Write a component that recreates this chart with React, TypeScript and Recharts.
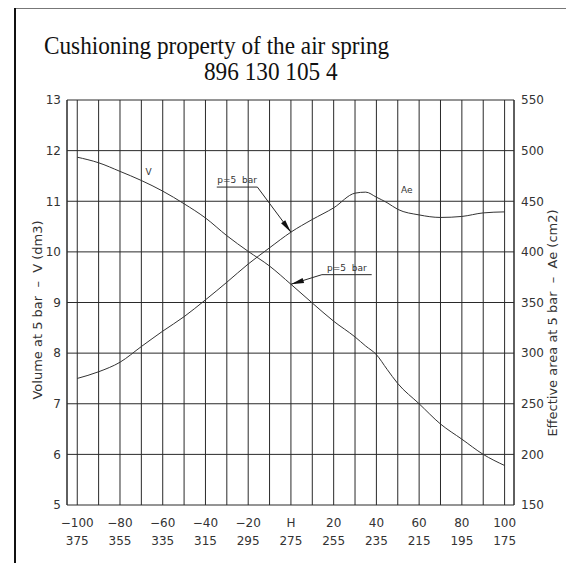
import React from 'react';
import {
  LineChart,
  Line,
  XAxis,
  YAxis,
  CartesianGrid,
  ReferenceLine,
  ReferenceDot,
} from 'recharts';

// stroke position (mm) and the readings at 5 bar
const strokes = [-100, -90, -80, -70, -60, -50, -40, -30, -20, -10, 0, 10, 20, 30, 35, 40, 45, 50, 60, 70, 80, 90, 100];
const volume = [11.87, 11.76, 11.59, 11.41, 11.2, 10.95, 10.67, 10.32, 10.01, 9.72, 9.36, 8.99, 8.63, 8.32, 8.14, 7.97, 7.68, 7.4, 7.0, 6.6, 6.3, 6.0, 5.78];
const area = [275, 281.6, 291, 306.5, 321.7, 336, 352.6, 370, 388, 404, 419.5, 432, 443.5, 458, 459, 454, 448.6, 442, 436.5, 434, 435, 438.5, 439.5];

const xTicks = [-100, -90, -80, -70, -60, -50, -40, -30, -20, -10, 0, 10, 20, 30, 40, 50, 60, 70, 80, 90, 100];
const xTopLabels = ['\u2212100', '\u221280', '\u221260', '\u221240', '\u221220', 'H', '20', '40', '60', '80', '100'];
const xBottomLabels = ['375', '355', '335', '315', '295', '275', '255', '235', '215', '195', '175'];
const leftTicks = [5, 6, 7, 8, 9, 10, 11, 12, 13];
const rightTicks = [150, 200, 250, 300, 350, 400, 450, 500, 550];

const data = strokes.map((x, i) => ({ x, v: volume[i], ae: area[i] }));
const atZero = strokes.indexOf(0);

const FONT = '"DejaVu Sans", sans-serif';
const SERIF = '"Liberation Serif", serif';
const INK = '#2a2a2a';

function XTick({ x, y, payload }: any) {
  const v = payload.value;
  if (v % 20 !== 0) return <g />;
  const i = (v + 100) / 20;
  return (
    <g fontFamily={FONT} fontSize={12} fill="#333">
      <text x={x} y={y + 20} textAnchor="middle">{xTopLabels[i]}</text>
      <text x={x} y={y + 38} textAnchor="middle">{xBottomLabels[i]}</text>
    </g>
  );
}

// leader line ending in a filled arrow head at (x2, y2)
const leader = (props: any) => {
  const { x1, y1, x2, y2 } = props;
  const a = Math.atan2(y2 - y1, x2 - x1);
  const len = 13;
  const hw = 2.6;
  const bx = x2 - len * Math.cos(a);
  const by = y2 - len * Math.sin(a);
  const nx = -Math.sin(a) * hw;
  const ny = Math.cos(a) * hw;
  return (
    <g>
      <line x1={x1} y1={y1} x2={x2} y2={y2} stroke={INK} strokeWidth={1} />
      <polygon points={`${x2},${y2} ${bx + nx},${by + ny} ${bx - nx},${by - ny}`} fill="#111" />
    </g>
  );
};

const underline = (props: any) => {
  const { x1, y1, x2, y2 } = props;
  return (
    <g>
      <line x1={x1} y1={y1} x2={x2} y2={y2} stroke={INK} strokeWidth={1} />
      <text
        x={(x1 + x2) / 2}
        y={y1 - 4}
        textAnchor="middle"
        fontFamily={FONT}
        fontSize={9}
        fill="#333"
        style={{ whiteSpace: 'pre' }}
      >
        {'p=5  bar'}
      </text>
    </g>
  );
};

const smallText = (txt: string) => (props: any) => (
  <text x={props.cx} y={props.cy + 3} textAnchor="middle" fontFamily={FONT} fontSize={9} fill="#333">
    {txt}
  </text>
);

export default function App() {
  return (
    <div style={{ position: 'absolute', left: 0, top: 0, width: 566, height: 563, background: '#fff' }}>
      <LineChart
        width={566}
        height={563}
        data={data}
        margin={{ top: 100, right: 22, left: 17, bottom: 0 }}
      >
        <CartesianGrid yAxisId="left" stroke={INK} strokeWidth={1} strokeOpacity={1} />
        <XAxis
          dataKey="x"
          type="number"
          domain={[-104.8, 104.4]}
          ticks={xTicks}
          interval={0}
          allowDataOverflow
          tick={<XTick />}
          tickLine={false}
          axisLine={false}
          tickSize={0}
          height={58}
        />
        <YAxis
          yAxisId="left"
          domain={[5, 13]}
          ticks={leftTicks}
          interval={0}
          width={50}
          tickLine={false}
          tickSize={4}
          axisLine={{ stroke: INK }}
          tick={{ fontFamily: FONT, fontSize: 12, fill: '#333' }}
        />
        <YAxis
          yAxisId="right"
          orientation="right"
          domain={[150, 550]}
          ticks={rightTicks}
          interval={0}
          width={30}
          tickLine={false}
          tickSize={5}
          axisLine={{ stroke: INK }}
          tick={{ fontFamily: FONT, fontSize: 12, fill: '#333', textAnchor: 'start' }}
        />
        <Line
          yAxisId="left"
          dataKey="v"
          type="monotone"
          stroke="#333"
          strokeWidth={1}
          dot={false}
          isAnimationActive={false}
        />
        <Line
          yAxisId="right"
          dataKey="ae"
          type="monotone"
          stroke="#333"
          strokeWidth={1}
          dot={false}
          isAnimationActive={false}
        />
        <ReferenceDot yAxisId="left" x={-66.6} y={11.58} r={0} shape={smallText('V')} />
        <ReferenceDot yAxisId="right" x={54.2} y={461} r={0} shape={smallText('Ae')} />
        <ReferenceLine
          yAxisId="left"
          segment={[{ x: -34.7, y: 11.28 }, { x: -15.7, y: 11.28 }]}
          shape={underline}
        />
        <ReferenceLine
          yAxisId="right"
          segment={[{ x: -15.7, y: 464 }, { x: 0, y: area[atZero] }]}
          shape={leader}
        />
        <ReferenceLine
          yAxisId="left"
          segment={[{ x: 14.5, y: 9.55 }, { x: 37.8, y: 9.55 }]}
          shape={underline}
        />
        <ReferenceLine
          yAxisId="left"
          segment={[{ x: 14.5, y: 9.55 }, { x: 0, y: volume[atZero] }]}
          shape={leader}
        />
      </LineChart>
      <svg
        width={566}
        height={563}
        style={{ position: 'absolute', left: 0, top: 0, pointerEvents: 'none' }}
      >
        <line x1={15} y1={8.5} x2={566} y2={8.5} stroke="#777" strokeWidth={1} />
        <line x1={15} y1={8} x2={15} y2={563} stroke="#111" strokeWidth={2} />
        <text transform="translate(44,54) scale(0.93,1)" fontFamily={SERIF} fontSize={25} fill="#111">
          Cushioning property of the air spring
        </text>
        <text transform="translate(204,80) scale(0.93,1)" fontFamily={SERIF} fontSize={25} fill="#111">
          896 130 105 4
        </text>
        <text
          transform="translate(42,310) rotate(-90)"
          textAnchor="middle"
          fontFamily={FONT}
          fontSize={13}
          fill="#333"
          style={{ whiteSpace: 'pre' }}
        >
          {'Volume at 5 bar  \u2013  V (dm3)'}
        </text>
        <text
          transform="translate(557,323) rotate(-90)"
          textAnchor="middle"
          fontFamily={FONT}
          fontSize={13}
          fill="#333"
          style={{ whiteSpace: 'pre' }}
        >
          {'Effective area at 5 bar  \u2013  Ae (cm2)'}
        </text>
      </svg>
    </div>
  );
}
